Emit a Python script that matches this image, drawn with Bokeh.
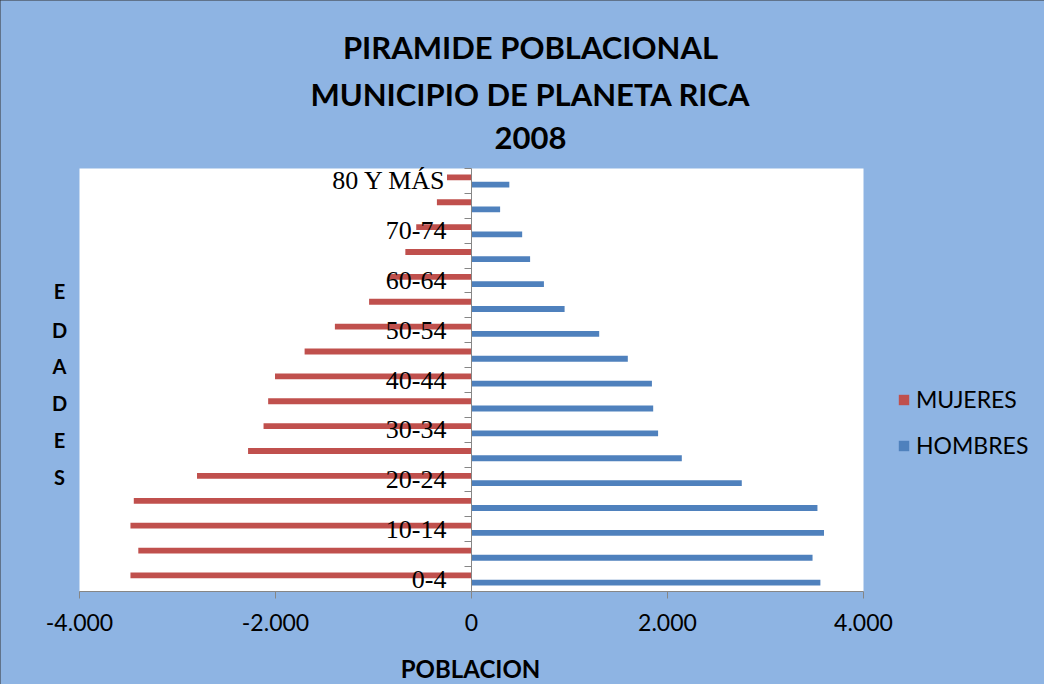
from bokeh.plotting import figure
from bokeh.models import (Range1d, FixedTicker, Legend, LegendItem, Label,
                          ColumnDataSource, LinearAxis, BoxAnnotation)
from bokeh.embed import file_html
from bokeh.resources import INLINE

# ---- data ----
grupos = ["0-4", "5-9", "10-14", "15-19", "20-24", "25-29", "30-34", "35-39",
          "40-44", "45-49", "50-54", "55-59", "60-64", "65-69", "70-74",
          "75-79", "80 Y MÁS"]
mujeres = [-3480, -3400, -3480, -3446, -2801, -2280, -2122, -2075, -2005,
           -1703, -1394, -1045, -850, -675, -564, -353, -250]
hombres = [3560, 3480, 3597, 3530, 2758, 2146, 1904, 1854, 1841, 1595, 1303,
           950, 739, 598, 517, 292, 386]
x_ticks = [-4000, -2000, 0, 2000, 4000]
x_tick_labels = ["-4.000", "-2.000", "0", "2.000", "4.000"]
title_lines = ["PIRAMIDE POBLACIONAL", "MUNICIPIO DE PLANETA RICA", "2008"]
y_title = "EDADES"
x_title = "POBLACION"
series_names = ["MUJERES", "HOMBRES"]

BG = "#8EB4E3"
RED = "#C0504D"
BLUE = "#4F81BD"
SANS = "Lato"

# ---- layout (pixels) ----
W, H = 1044, 684
PL, PR, PT, PB = 79, 863, 168, 591      # white plot area edges
n = len(grupos)
XMIN, XMAX = x_ticks[0], x_ticks[-1]
ux = (PR - PL) / (XMAX - XMIN)
uy = (PB - PT) / n
x_range = Range1d(XMIN - PL / ux, XMAX + (W - PR) / ux)
y_range = Range1d(-(H - PB) / uy, n + PT / uy)

centers = [i + 0.5 for i in range(n)]
src = ColumnDataSource(dict(
    grupo=grupos, m=mujeres, h=hombres,
    ym=[c + 0.145 for c in centers], yh=[c - 0.145 for c in centers]))

p = figure(width=W, height=H, output_backend="svg", toolbar_location=None,
           x_range=x_range, y_range=y_range,
           x_axis_location=None, y_axis_location=None, min_border=0)
p.background_fill_color = BG
p.border_fill_color = BG
p.outline_line_color = None
p.grid.visible = False
p.styles = {"outline": "2px solid #333333", "outline-offset": "-2px"}

p.add_layout(BoxAnnotation(left=XMIN, right=XMAX, bottom=0, top=n,
                           fill_color="white", fill_alpha=1, line_color=None,
                           level="underlay"))

rm = p.hbar(y="ym", left=0, right="m", height=0.235, source=src,
            fill_color=RED, line_color=None)
rh = p.hbar(y="yh", left=0, right="h", height=0.235, source=src,
            fill_color=BLUE, line_color=None)

# x axis along the bottom of the plot area
xa = LinearAxis(fixed_location=0, bounds=(XMIN, XMAX))
xa.ticker = FixedTicker(ticks=x_ticks, minor_ticks=[])
xa.major_label_overrides = {t: l for t, l in zip(x_ticks, x_tick_labels)}
xa.axis_line_color = "#868686"
xa.major_tick_line_color = "#868686"
xa.major_tick_out = 7
xa.major_tick_in = 0
xa.minor_tick_line_color = None
xa.major_label_standoff = 15
xa.major_label_text_font = SANS
xa.major_label_text_font_size = "23px"
xa.major_label_text_color = "black"
p.add_layout(xa, "below")

# y axis at x = 0
ya = LinearAxis(fixed_location=0, bounds=(0, n))
ya.ticker = FixedTicker(ticks=[centers[i] for i in range(0, n, 2)],
                        minor_ticks=list(range(n + 1)))
ya.major_label_overrides = {centers[i]: grupos[i] for i in range(0, n, 2)}
ya.axis_line_color = "#868686"
ya.major_tick_line_color = None
ya.major_tick_out = 0
ya.major_tick_in = 0
ya.minor_tick_line_color = "#868686"
ya.minor_tick_out = 7
ya.minor_tick_in = 0
ya.major_label_standoff = 18
ya.major_label_text_font = "Liberation Serif"
ya.major_label_text_font_size = "26px"
ya.major_label_text_color = "black"
p.add_layout(ya, "left")


def add_label(text, x, y, size, bold=True):
    p.add_layout(Label(x=x, y=y, x_units="screen", y_units="screen", text=text,
                       text_font=SANS, text_font_size=size,
                       text_font_style="bold" if bold else "normal",
                       text_align="center", text_baseline="middle",
                       text_color="black"))


for txt, yy in zip(title_lines, [46, 93, 137]):
    add_label(txt, 530, H - yy, "31px")

for ch, yy in zip(y_title, [290, 329, 365, 402, 439, 476]):
    add_label(ch, 59, H - yy, "20px")

add_label(x_title, 470, H - 668, "24px")

legend = Legend(items=[LegendItem(label=series_names[0], renderers=[rm]),
                       LegendItem(label=series_names[1], renderers=[rh])],
                location=(897, H - 445 - 14), orientation="vertical",
                background_fill_alpha=0, border_line_color=None,
                padding=0, margin=0, spacing=18,
                glyph_width=13, glyph_height=13, label_height=20,
                label_standoff=6,
                label_text_font=SANS, label_text_font_size="23px",
                label_text_color="black")
p.add_layout(legend)

open("out.html", "w").write(file_html(p, INLINE))
